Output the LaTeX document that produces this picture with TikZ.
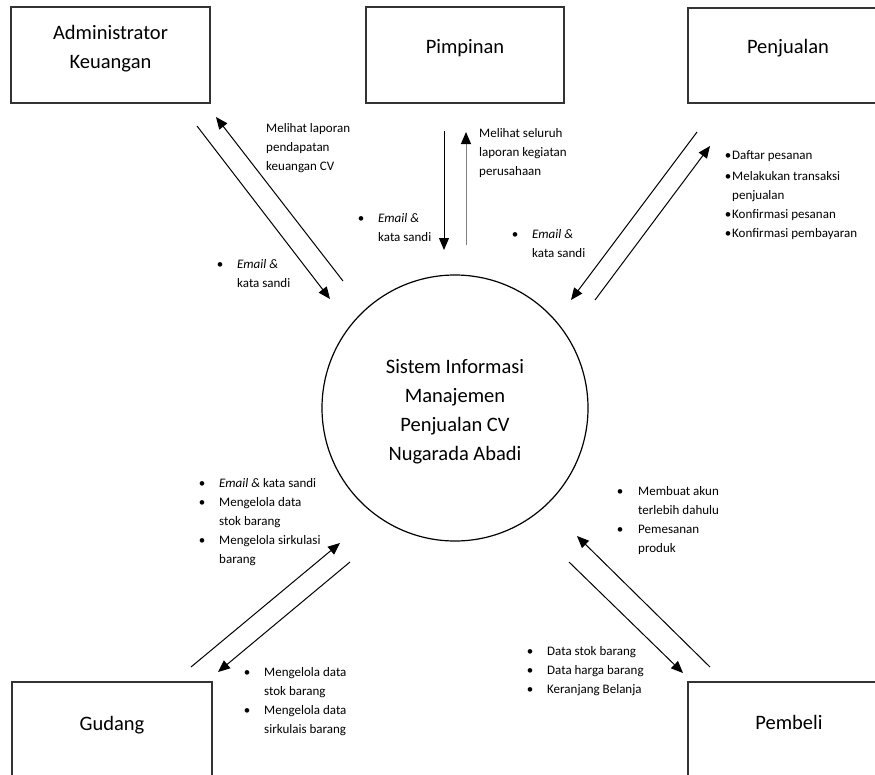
\documentclass[tikz,border=0pt]{standalone}
\usepackage{fontspec}
\setmainfont{Carlito}
\usetikzlibrary{arrows.meta}

\newcommand{\bul}{\makebox[7pt][c]{•}}

\tikzset{
  entitas/.style={draw=black!80, line width=1.2pt, inner sep=0pt, anchor=base,
                  font=\fontsize{20.5}{29}\selectfont},
  proses/.style={circle, draw=black, line width=1.2pt, inner sep=0pt, minimum size=266pt,
                 text height=20pt, text depth=90pt, font=\fontsize{20.5}{29.3}\selectfont},
  ket/.style={inner sep=0pt, anchor=base west, font=\fontsize{13}{19}\selectfont},
  alur/.style={line width=1pt, -{Triangle[length=12pt,width=10pt]}}
}

\begin{document}
\begin{tikzpicture}[x=1pt,y=-1pt]
\clip (0,0) rectangle (875,774);

% entitas luar
\node[entitas, minimum width=199pt, text height=32pt, text depth=64pt] (adm) at (110.5,39)
    {\begin{tabular}[t]{@{}c@{}}Administrator\\Keuangan\end{tabular}};
\node[entitas, minimum width=198pt, text height=46pt, text depth=50pt] (pim) at (465,53) {Pimpinan};
\node[entitas, minimum width=200pt, text height=45pt, text depth=50pt] (pen) at (788,53) {Penjualan};
\node[entitas, minimum width=200pt, text height=48pt, text depth=48pt] (gud) at (112,730) {Gudang};
\node[entitas, minimum width=202pt, text height=47pt, text depth=49pt] (pem) at (789,729) {Pembeli};

% sistem
\node[proses] (sis) at (455,408)
    {\begin{tabular}[t]{@{}c@{}}Sistem Informasi\\Manajemen\\Penjualan CV\\Nugarada Abadi\end{tabular}};

% ujung alur
\coordinate (adm1) at (197,126);  \coordinate (adm2) at (330,299);
\coordinate (adm3) at (343,281);  \coordinate (adm4) at (216,117);
\coordinate (pim1) at (444,131);  \coordinate (pim2) at (444,250);
\coordinate (pim3) at (466,245);  \coordinate (pim4) at (466,132);
\coordinate (pen1) at (697,132);  \coordinate (pen2) at (571,300);
\coordinate (pen3) at (595,300);  \coordinate (pen4) at (710,146);
\coordinate (gud1) at (191,667);  \coordinate (gud2) at (340,543);
\coordinate (gud3) at (350,562);  \coordinate (gud4) at (218,672);
\coordinate (pem1) at (710,667);  \coordinate (pem2) at (577,536);
\coordinate (pem3) at (569,562);  \coordinate (pem4) at (683,673);

\draw[alur] (adm1) -- (adm2);
\draw[alur] (adm3) -- (adm4);
\draw[alur] (pim1) -- (pim2);
\draw[alur, draw=black!50, -{Triangle[length=12pt,width=10pt,color=black]}] (pim3) -- (pim4);
\draw[alur] (pen1) -- (pen2);
\draw[alur] (pen3) -- (pen4);
\draw[alur] (gud1) -- (gud2);
\draw[alur] (gud3) -- (gud4);
\draw[alur] (pem1) -- (pem2);
\draw[alur] (pem3) -- (pem4);

% keterangan
\node[ket] (kadm1) at (266,132)
    {\begin{tabular}[t]{@{}l@{}}Melihat laporan\\pendapatan\\keuangan CV\end{tabular}};
\node[ket] (kadm2) at (216.5,268)
    {\begin{tabular}[t]{@{}l@{\hspace{13.5pt}}l@{}}\bul & \textit{Email \&}\\ & kata sandi\end{tabular}};
\node[ket] (kpim1) at (479,137)
    {\begin{tabular}[t]{@{}l@{}}Melihat seluruh\\laporan kegiatan\\perusahaan\end{tabular}};
\node[ket] (kpim2) at (357.5,222)
    {\begin{tabular}[t]{@{}l@{\hspace{13.5pt}}l@{}}\bul & \textit{Email \&}\\ & kata sandi\end{tabular}};
\node[ket] (kpen1) at (511.5,238)
    {\begin{tabular}[t]{@{}l@{\hspace{13.5pt}}l@{}}\bul & \textit{Email \&}\\ & kata sandi\end{tabular}};
\node[ket] (kpen2) at (724.5,159)
    {\begin{tabular}[t]{@{}l@{\hspace{0.5pt}}l@{}}\bul & Daftar pesanan\\[2pt]
     \bul & Melakukan transaksi\\ & penjualan\\
     \bul & Konfirmasi pesanan\\ \bul & Konfirmasi pembayaran\end{tabular}};
\node[ket] (kgud1) at (198.5,487)
    {\begin{tabular}[t]{@{}l@{\hspace{13.5pt}}l@{}}\bul & \textit{Email \&} kata sandi\\
     \bul & Mengelola data\\ & stok barang\\
     \bul & Mengelola sirkulasi\\ & barang\end{tabular}};
\node[ket] (kgud2) at (243.5,676)
    {\begin{tabular}[t]{@{}l@{\hspace{13.5pt}}l@{}}\bul & Mengelola data\\ & stok barang\\
     \bul & Mengelola data\\ & sirkulais barang\end{tabular}};
\node[ket] (kpem1) at (616.5,495)
    {\begin{tabular}[t]{@{}l@{\hspace{14.5pt}}l@{}}\bul & Membuat akun\\ & terlebih dahulu\\
     \bul & Pemesanan\\ & produk\end{tabular}};
\node[ket] (kpem2) at (526.5,655)
    {\begin{tabular}[t]{@{}l@{\hspace{13.5pt}}l@{}}\bul & Data stok barang\\
     \bul & Data harga barang\\ \bul & Keranjang Belanja\end{tabular}};
\end{tikzpicture}
\end{document}
